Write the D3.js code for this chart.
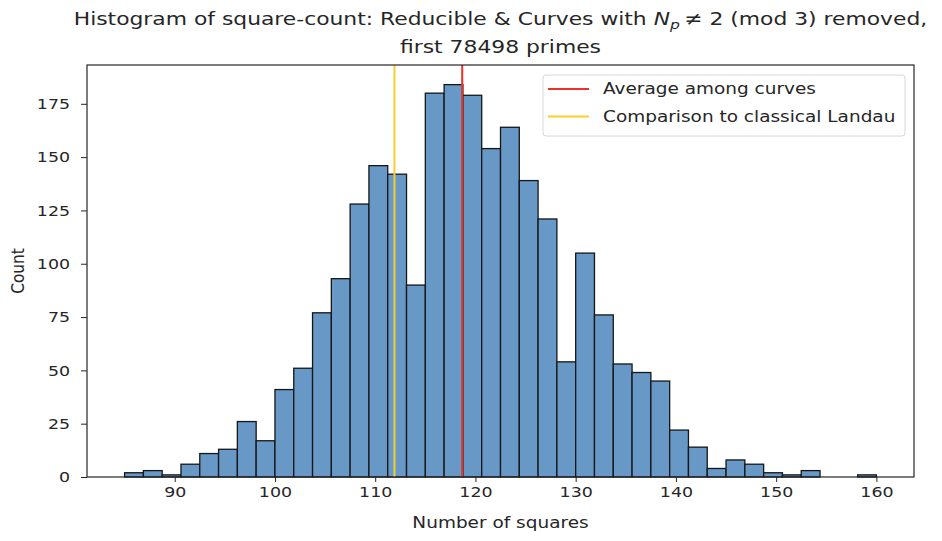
<!DOCTYPE html>
<html>
<head>
<meta charset="utf-8">
<script src="https://cdn.jsdelivr.net/npm/d3@7"></script>
<style>
  body { margin: 0; background: #fff; }
  text { font-family: "DejaVu Sans", sans-serif; fill: #262626; }
</style>
</head>
<body>
<div id="chart"></div>
<script>
// Histogram bins: 40 bins from 85 to 160
const binStart = 85;
const binEnd = 160;
const counts = [2, 3, 1, 6, 11, 13, 26, 17, 41, 51,
                77, 93, 128, 146, 142, 90, 180, 184, 179, 154,
                164, 139, 121, 54, 105, 76, 53, 49, 45, 22,
                14, 4, 8, 6, 2, 1, 3, 0, 0, 1];
const xTicks = [90, 100, 110, 120, 130, 140, 150, 160];
const yTicks = [0, 25, 50, 75, 100, 125, 150, 175];

// vertical reference lines
const refLines = [
  {label: "Average among curves", value: 118.68, color: "#ee3124"},
  {label: "Comparison to classical Landau", value: 111.92, color: "#f7d02c"}
];

// the picture looks wider than tall, so text gets stretched sideways
const stretch = 1.2;

var svgWidth = 942, svgHeight = 541;
var margin = {top: 65, right: 28, bottom: 64, left: 87};
var chartWidth = svgWidth - margin.left - margin.right;
var chartHeight = svgHeight - margin.top - margin.bottom;

var binWidth = (binEnd - binStart) / counts.length;
var bins = counts.map((c, i) => ({x0: binStart + i * binWidth, x1: binStart + (i + 1) * binWidth, count: c}));

var svg = d3.select("#chart").append("svg")
  .attr("width", svgWidth)
  .attr("height", svgHeight);

var chartGroup = svg.append("g")
  .attr("transform", `translate(${margin.left}, ${margin.top})`);

// matplotlib-style 5% margins on x, 5% headroom on y
var pad = (binEnd - binStart) * 0.05;
var xScale = d3.scaleLinear()
  .domain([binStart - pad, binEnd + pad])
  .range([0, chartWidth]);

var yScale = d3.scaleLinear()
  .domain([0, d3.max(counts) * 1.05])
  .range([chartHeight, 0]);

// bars
chartGroup.selectAll("rect.bar")
  .data(bins)
  .enter()
  .append("rect")
  .attr("class", "bar")
  .attr("x", d => xScale(d.x0))
  .attr("width", d => xScale(d.x1) - xScale(d.x0))
  .attr("y", d => yScale(d.count))
  .attr("height", d => chartHeight - yScale(d.count))
  .attr("fill", d => d.count > 0 ? "#6798c6" : "none")
  .attr("stroke", "#161616")
  .attr("stroke-width", 1.3);

// reference lines
chartGroup.selectAll("line.ref")
  .data(refLines)
  .enter()
  .append("line")
  .attr("class", "ref")
  .attr("x1", d => xScale(d.value))
  .attr("x2", d => xScale(d.value))
  .attr("y1", 0)
  .attr("y2", chartHeight)
  .attr("stroke", d => d.color)
  .attr("stroke-width", 2);

// axes
var xAxis = d3.axisBottom(xScale).tickValues(xTicks).tickSizeOuter(0).tickSize(5).tickPadding(5);
var yAxis = d3.axisLeft(yScale).tickValues(yTicks).tickSizeOuter(0).tickSize(6).tickPadding(5);

var gx = chartGroup.append("g")
  .attr("transform", `translate(0,${chartHeight})`)
  .call(xAxis);
var gy = chartGroup.append("g").call(yAxis);

[gx, gy].forEach(g => {
  g.select(".domain").remove();
  g.selectAll("line").attr("stroke", "#262626").attr("stroke-width", 1);
  g.selectAll("text")
    .attr("font-size", 14.5)
    .attr("font-family", "DejaVu Sans")
    .attr("fill", "#262626")
    .attr("transform", `scale(${stretch},1)`);
});
// keep the right edge of y labels about 17px left of the frame
gy.selectAll("text").attr("x", -17 / stretch);

// frame
chartGroup.append("rect")
  .attr("width", chartWidth)
  .attr("height", chartHeight)
  .attr("fill", "none")
  .attr("stroke", "#262626")
  .attr("stroke-width", 1.2);

// axis labels
svg.append("text")
  .attr("transform", `translate(${margin.left + chartWidth / 2}, 528) scale(${stretch},1)`)
  .attr("text-anchor", "middle")
  .attr("font-size", 15.4)
  .text("Number of squares");

svg.append("text")
  .attr("transform", `translate(24, ${margin.top + chartHeight / 2}) scale(${stretch},1) rotate(-90)`)
  .attr("text-anchor", "middle")
  .attr("font-size", 15.4)
  .text("Count");

// title, two lines
var cx = margin.left + chartWidth / 2;
var t1 = svg.append("text")
  .attr("transform", `translate(${cx}, 25) scale(${stretch},1)`)
  .attr("text-anchor", "middle")
  .attr("font-size", 18.2);
t1.append("tspan").text("Histogram of square-count: Reducible & Curves with ");
t1.append("tspan").attr("font-style", "italic").text("N");
t1.append("tspan").attr("font-style", "italic").attr("font-size", 13).attr("dy", 4).text("p");
t1.append("tspan").attr("dy", -4).text("\u2009\u2260 2 (mod 3) removed,");

svg.append("text")
  .attr("transform", `translate(${cx}, 53) scale(${stretch},1)`)
  .attr("text-anchor", "middle")
  .attr("font-size", 18.2)
  .text("first 78498 primes");

// legend
var legend = svg.append("g").attr("transform", "translate(543, 75)");
legend.append("rect")
  .attr("width", 362)
  .attr("height", 61)
  .attr("rx", 3)
  .attr("fill", "#fff")
  .attr("fill-opacity", 0.8)
  .attr("stroke", "#d6d6d6");

var items = legend.selectAll("g.item")
  .data(refLines)
  .enter()
  .append("g")
  .attr("class", "item")
  .attr("transform", (d, i) => `translate(0, ${14 + i * 27.5})`);

items.append("line")
  .attr("x1", 5).attr("x2", 46)
  .attr("stroke", d => d.color)
  .attr("stroke-width", 2);

items.append("text")
  .attr("transform", `translate(60,0) scale(${stretch},1)`)
  .attr("dy", "0.35em")
  .attr("font-size", 15.4)
  .text(d => d.label);
</script>
</body>
</html>
